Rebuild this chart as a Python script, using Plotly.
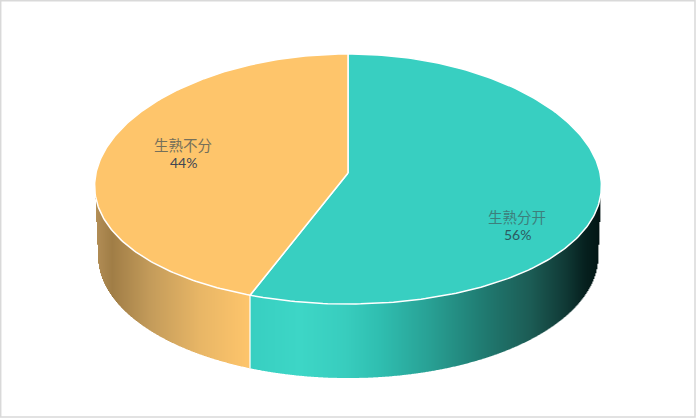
import numpy as np
import plotly.graph_objects as go

# datos
categories = ["生熟分开", "生熟不分"]
shares = [56, 44]
percent_labels = ["56%", "44%"]

colors = ["#38cfc1", "#fec56b"]

# geometria en pixeles de la ventana
W, H = 700, 420
cx, cy, rx, ry = 348, 179, 253, 125
apex_y = 173
persp = 0.056  # lo cercano se ve un poco mas ancho
bottom_cy, bottom_rx, bottom_ry = 256, 250, 122
edge_top_y = 188

# sombreado del lateral: posicion x -> color
shade_x = [95, 98, 112, 150, 200, 250, 300, 345, 380, 430, 480, 530, 565, 585, 602]
shade_rgb = [
    (184, 148, 90), (176, 140, 84), (160, 125, 70), (195, 155, 90), (232, 182, 102), (254, 197, 107),
    (61, 214, 198), (56, 205, 190), (47, 190, 176), (40, 160, 148), (32, 125, 115),
    (28, 92, 85), (16, 58, 54), (6, 32, 30), (2, 20, 19),
]
teal_start = [(56, 207, 193)]


def top_point(t):
    return cx + rx * np.sin(t) * (1 - persp * np.cos(t)), cy - ry * np.cos(t)


fracs = np.cumsum([0] + shares) / sum(shares) * 2 * np.pi
split = fracs[1]
split_x, split_y = top_point(split)


def shade(x):
    # dos tramos: naranja a la izquierda del corte, turquesa a la derecha
    if x < split_x:
        xs, cs = shade_x[:6], shade_rgb[:6]
    else:
        xs, cs = [split_x] + shade_x[6:], teal_start + shade_rgb[6:]
    r, g, b = [np.interp(x, xs, [c[i] for c in cs]) for i in range(3)]
    return f"rgb({r:.0f},{g:.0f},{b:.0f})"


def side_top(x):
    u = np.clip((x - cx) / rx, -1, 1)
    return cy + ry * np.sqrt(1 - u ** 2) - 2


def side_bottom(x):
    d = abs(x - cx)
    if d >= bottom_rx:
        # borde casi vertical entre la elipse de arriba y la de abajo
        return np.interp(d, [bottom_rx, rx], [bottom_cy, edge_top_y])
    return bottom_cy + bottom_ry * np.sqrt(1 - (d / bottom_rx) ** 2)


fig = go.Figure()

# lateral: franjas verticales de 1 px, de izquierda a derecha
for x in np.arange(cx - rx, cx + rx - 1):
    x1 = x + 1.4
    c = shade(x + 0.5)
    y0 = side_top(x + 0.5)
    y1 = side_bottom(x + 0.5)
    fig.add_trace(go.Scatter(
        x=[x, x1, x1, x, x], y=[y0, y0, y1, y1, y0],
        mode="lines", fill="toself", fillcolor=c,
        line=dict(width=0), hoverinfo="skip", showlegend=False,
    ))

# separacion blanca en el lateral
fig.add_trace(go.Scatter(
    x=[split_x, split_x], y=[split_y, side_bottom(split_x)], mode="lines",
    line=dict(color="white", width=1.2), hoverinfo="skip", showlegend=False,
))

# cara superior
for i in range(len(shares)):
    t = np.linspace(fracs[i], fracs[i + 1], 200)
    px, py = top_point(t)
    fig.add_trace(go.Scatter(
        x=np.r_[cx, px, cx], y=np.r_[apex_y, py, apex_y],
        mode="lines", fill="toself", fillcolor=colors[i],
        line=dict(color="white", width=1.5), hoverinfo="skip", showlegend=False,
        name=categories[i],
    ))

# etiquetas
label_pos = [(517, 216, 234.5), (183, 144, 162.5)]
label_color = ["#3d7f7c", "#75705a"]
pct_color = ["#2c5a60", "#3f4654"]
annotations = []
for i, (x, y1, y2) in enumerate(label_pos):
    annotations.append(dict(x=x, y=y1, text=categories[i], showarrow=False,
                            font=dict(family="Noto Sans CJK SC", size=14.5, color=label_color[i])))
    annotations.append(dict(x=x, y=y2, text=percent_labels[i], showarrow=False,
                            font=dict(family="Lato", size=14, color=pct_color[i])))

fig.update_layout(
    width=W, height=H,
    margin=dict(l=0, r=0, t=0, b=0),
    paper_bgcolor="white", plot_bgcolor="white",
    xaxis=dict(range=[0, W], visible=False, fixedrange=True),
    yaxis=dict(range=[H, 0], visible=False, fixedrange=True),
    annotations=annotations,
    shapes=[dict(type="rect", x0=0.7, y0=0.7, x1=695, y1=417,
                 line=dict(color="#d9d9d9", width=1.5))],
)

fig.write_html("out.html", config={"displayModeBar": False},
               post_script="document.body.style.margin='0';")
